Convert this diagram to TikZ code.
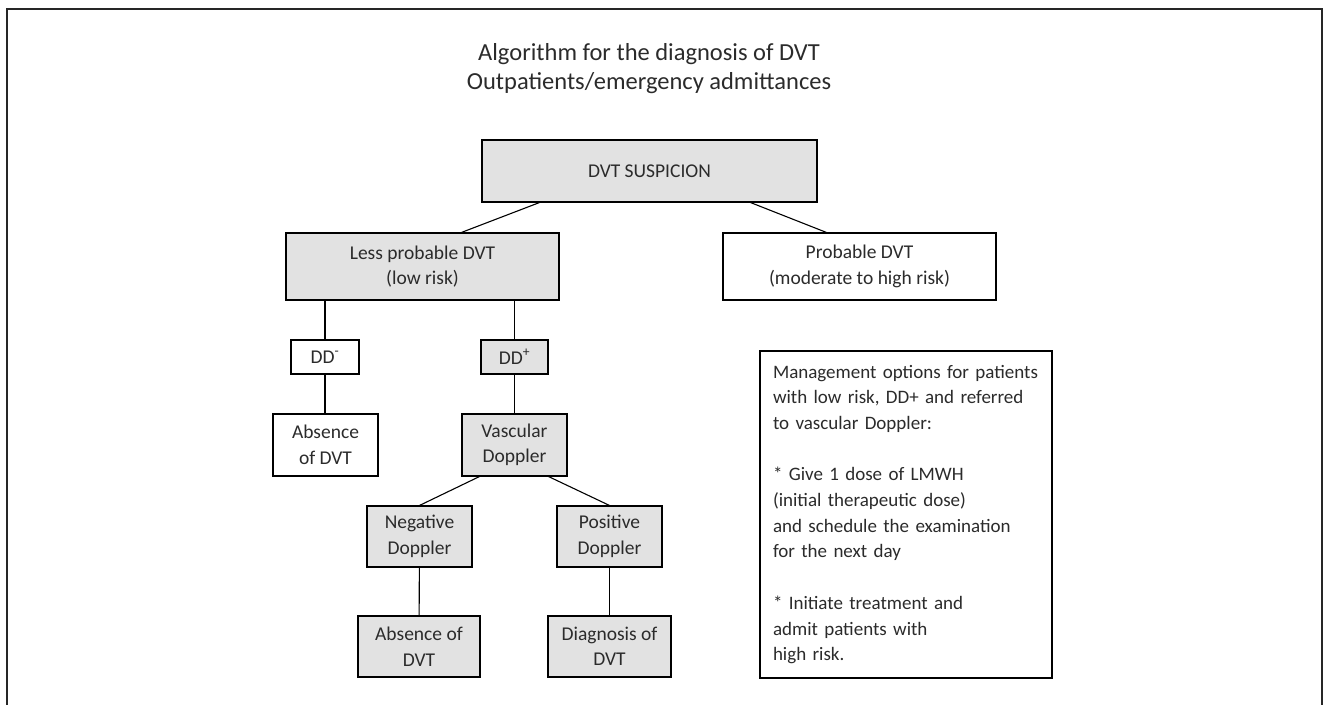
\documentclass[tikz,border=0pt]{standalone}
\usepackage{fontspec}
\setmainfont{Carlito}
\usetikzlibrary{positioning,calc}
\definecolor{boxgray}{HTML}{E2E2E2}
\definecolor{inkgray}{HTML}{2B2B2B}
\tikzset{
    boxbase/.style={draw=black, line width=1.1pt, align=center, inner sep=0pt, text=inkgray, font=\fontsize{19.5}{25.5}\selectfont},
    greybox/.style={boxbase, fill=boxgray},
    whitebox/.style={boxbase, fill=white},
    link/.style={line width=1.1pt},
}

\begin{document}
\begin{tikzpicture}[x=1pt, y=-1pt]
    \useasboundingbox (0,0) rectangle (1330,704);
    \draw[line width=2pt, draw=black!85] (7,710) -- (7,9) -- (1322,9) -- (1322,710);
    \node[text=inkgray, align=center, font=\fontsize{24.5}{29}\selectfont] (ttl) at (649,69) {Algorithm for the diagnosis of DVT\\Outpatients/emergency admittances};
    \node[greybox, minimum width=335pt, minimum height=62pt] (susp) at (649.5,171) {DVT SUSPICION};
    \node[greybox, minimum width=273pt, minimum height=67pt] (less) at (422.5,266.5) {Less probable DVT\\(low risk)};
    \node[whitebox, minimum width=273pt, minimum height=67pt] (prob) at (859.5,266.5) {Probable DVT\\(moderate to high risk)};
    \node[whitebox, minimum width=68pt, minimum height=34pt] (ddm) at (325,357) {DD\textsuperscript{-}};
    \node[greybox, minimum width=67pt, minimum height=34pt] (ddp) at (514.5,357) {DD\textsuperscript{+}};
    \node[whitebox, minimum width=105pt, minimum height=62pt] (absl) at (325.5,445) {Absence\\of DVT};
    \node[greybox, minimum width=105pt, minimum height=62pt] (vasc) at (514.5,445) {Vascular\\Doppler};
    \node[greybox, minimum width=105pt, minimum height=61pt] (neg) at (419.5,536.5) {Negative\\Doppler};
    \node[greybox, minimum width=105pt, minimum height=61pt] (pos) at (609.5,536.5) {Positive\\Doppler};
    \node[greybox, minimum width=122pt, minimum height=61pt] (absb) at (419,646.5) {Absence of\\DVT};
    \node[greybox, minimum width=123pt, minimum height=61pt] (diag) at (609.5,646.5) {Diagnosis of\\DVT};
    \node[whitebox, align=left, text width=266pt, inner xsep=13pt, minimum height=327pt,
        font=\fontsize{19}{25.7}\selectfont] (mgmt) at (906,514.5)
        {Management options for patients\\with low risk, DD+ and referred\\to vascular Doppler:\\[25.7pt]
        * Give 1 dose of LMWH\\(initial therapeutic dose)\\and schedule the examination\\for the next day\\[25.7pt]
        * Initiate treatment and\\admit patients with\\high risk.};
    \draw[link] ([xshift=58pt]susp.south west) -- ([xshift=176pt]less.north west);
    \draw[link] ([xshift=-67pt]susp.south east) -- ([xshift=104pt]prob.north west);
    \draw[link] (less.south -| ddm.north) -- (ddm.north);
    \draw[link] (less.south -| ddp.north) -- (ddp.north);
    \draw[link] (ddm.south) -- (ddm.south |- absl.north);
    \draw[link] (ddp.south) -- (ddp.south |- vasc.north);
    \draw[link] ([xshift=18pt]vasc.south west) -- (neg.north);
    \draw[link] ([xshift=-19pt]vasc.south east) -- (pos.north);
    \draw[link] (neg) -- (absb);
    \draw[link] (pos) -- (diag);
\end{tikzpicture}
\end{document}
